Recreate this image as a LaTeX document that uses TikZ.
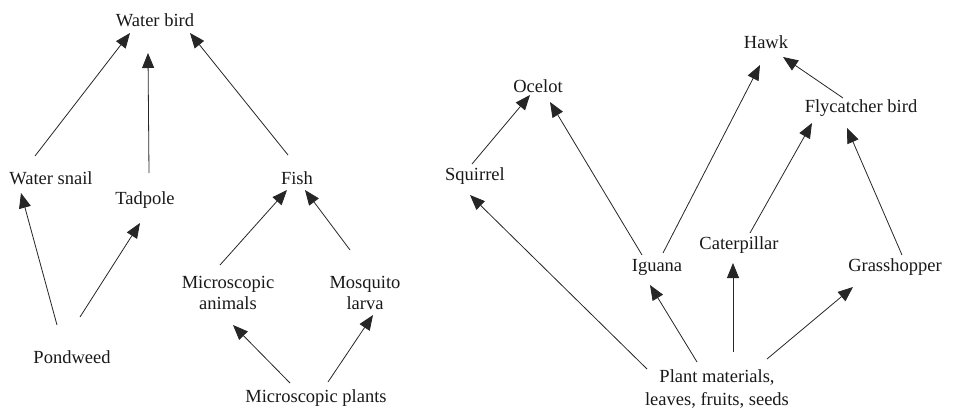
\documentclass[tikz,border=0pt]{standalone}
\usepackage{fontspec}
\setmainfont{Liberation Serif}
\usetikzlibrary{arrows.meta}
\begin{document}
\begin{tikzpicture}[x=1pt,y=-1pt,
  lbl/.style={inner sep=0pt,text=black!90,font=\fontsize{18.5}{21}\selectfont,align=center},
  arr/.style={draw=black!85,line width=0.8pt,-{Triangle[length=15pt,width=12pt]}}]
\useasboundingbox (0,0) rectangle (961,412);
% left web
\node[lbl] (wb) at (155,20) {Water bird};
\node[lbl] (ws) at (51,178) {Water snail};
\node[lbl] (tp) at (145,200) {Tadpole};
\node[lbl] (fish) at (297,178) {Fish};
\node[lbl] (pw) at (72,357) {Pondweed};
\node[lbl] (ma) at (228,293) {Microscopic\\animals};
\node[lbl] (ml) at (365,293) {Mosquito\\larva};
\node[lbl] (mp) at (316,398) {Microscopic plants};
\draw[arr] ([shift={(-16,-22)}]ws.center) -- ([shift={(-25,13)}]wb.center);
\draw[arr] ([shift={(4,-27)}]tp.center) -- ([shift={(-7,33)}]wb.center);
\draw[arr] ([shift={(-9,-23)}]fish.center) -- ([shift={(35,13)}]wb.center);
\draw[arr] ([shift={(-15,-32)}]pw.center) -- ([shift={(-30,15)}]ws.center);
\draw[arr] ([shift={(8,-40)}]pw.center) -- ([shift={(-5,23)}]tp.center);
\draw[arr] ([shift={(-8,-28)}]ma.center) -- ([shift={(-10,12)}]fish.center);
\draw[arr] ([shift={(-15,-43)}]ml.center) -- ([shift={(8,12)}]fish.center);
\draw[arr] ([shift={(-26,-15)}]mp.center) -- ([shift={(5,32)}]ma.center);
\draw[arr] ([shift={(12,-16)}]mp.center) -- ([shift={(8,22)}]ml.center);
% right web
\node[lbl] (hawk) at (766,42) {Hawk};
\node[lbl] (oce) at (538,86) {Ocelot};
\node[lbl] (fly) at (861,108) {Flycatcher bird};
\node[lbl] (sq) at (475,176) {Squirrel};
\node[lbl] (ig) at (657,267) {Iguana};
\node[lbl] (cat) at (739,245) {Caterpillar};
\node[lbl] (gh) at (895,267) {Grasshopper};
\node[lbl,font=\fontsize{18.5}{24}\selectfont] (pm) at (717,389) {Plant materials,\\leaves, fruits, seeds};
\draw[arr] ([shift={(-3,-12)}]sq.center) -- ([shift={(-8,9)}]oce.center);
\draw[arr] ([shift={(-15,-12)}]ig.center) -- ([shift={(12,16)}]oce.center);
\draw[arr] ([shift={(6,-14)}]ig.center) -- ([shift={(-6,23)}]hawk.center);
\draw[arr] ([shift={(11,-12)}]cat.center) -- ([shift={(-49,15)}]fly.center);
\draw[arr] ([shift={(7,-12)}]gh.center) -- ([shift={(-14,20)}]fly.center);
\draw[arr] ([shift={(-18,-10)}]fly.center) -- ([shift={(17,15)}]hawk.center);
\draw[arr] ([shift={(-70,-20)}]pm.center) -- ([shift={(-5,19)}]sq.center);
\draw[arr] ([shift={(-20,-27)}]pm.center) -- ([shift={(-7,18)}]ig.center);
\draw[arr] ([shift={(16,-37)}]pm.center) -- ([shift={(-6,18)}]cat.center);
\draw[arr] ([shift={(50,-30)}]pm.center) -- ([shift={(-42,20)}]gh.center);
\end{tikzpicture}
\end{document}
